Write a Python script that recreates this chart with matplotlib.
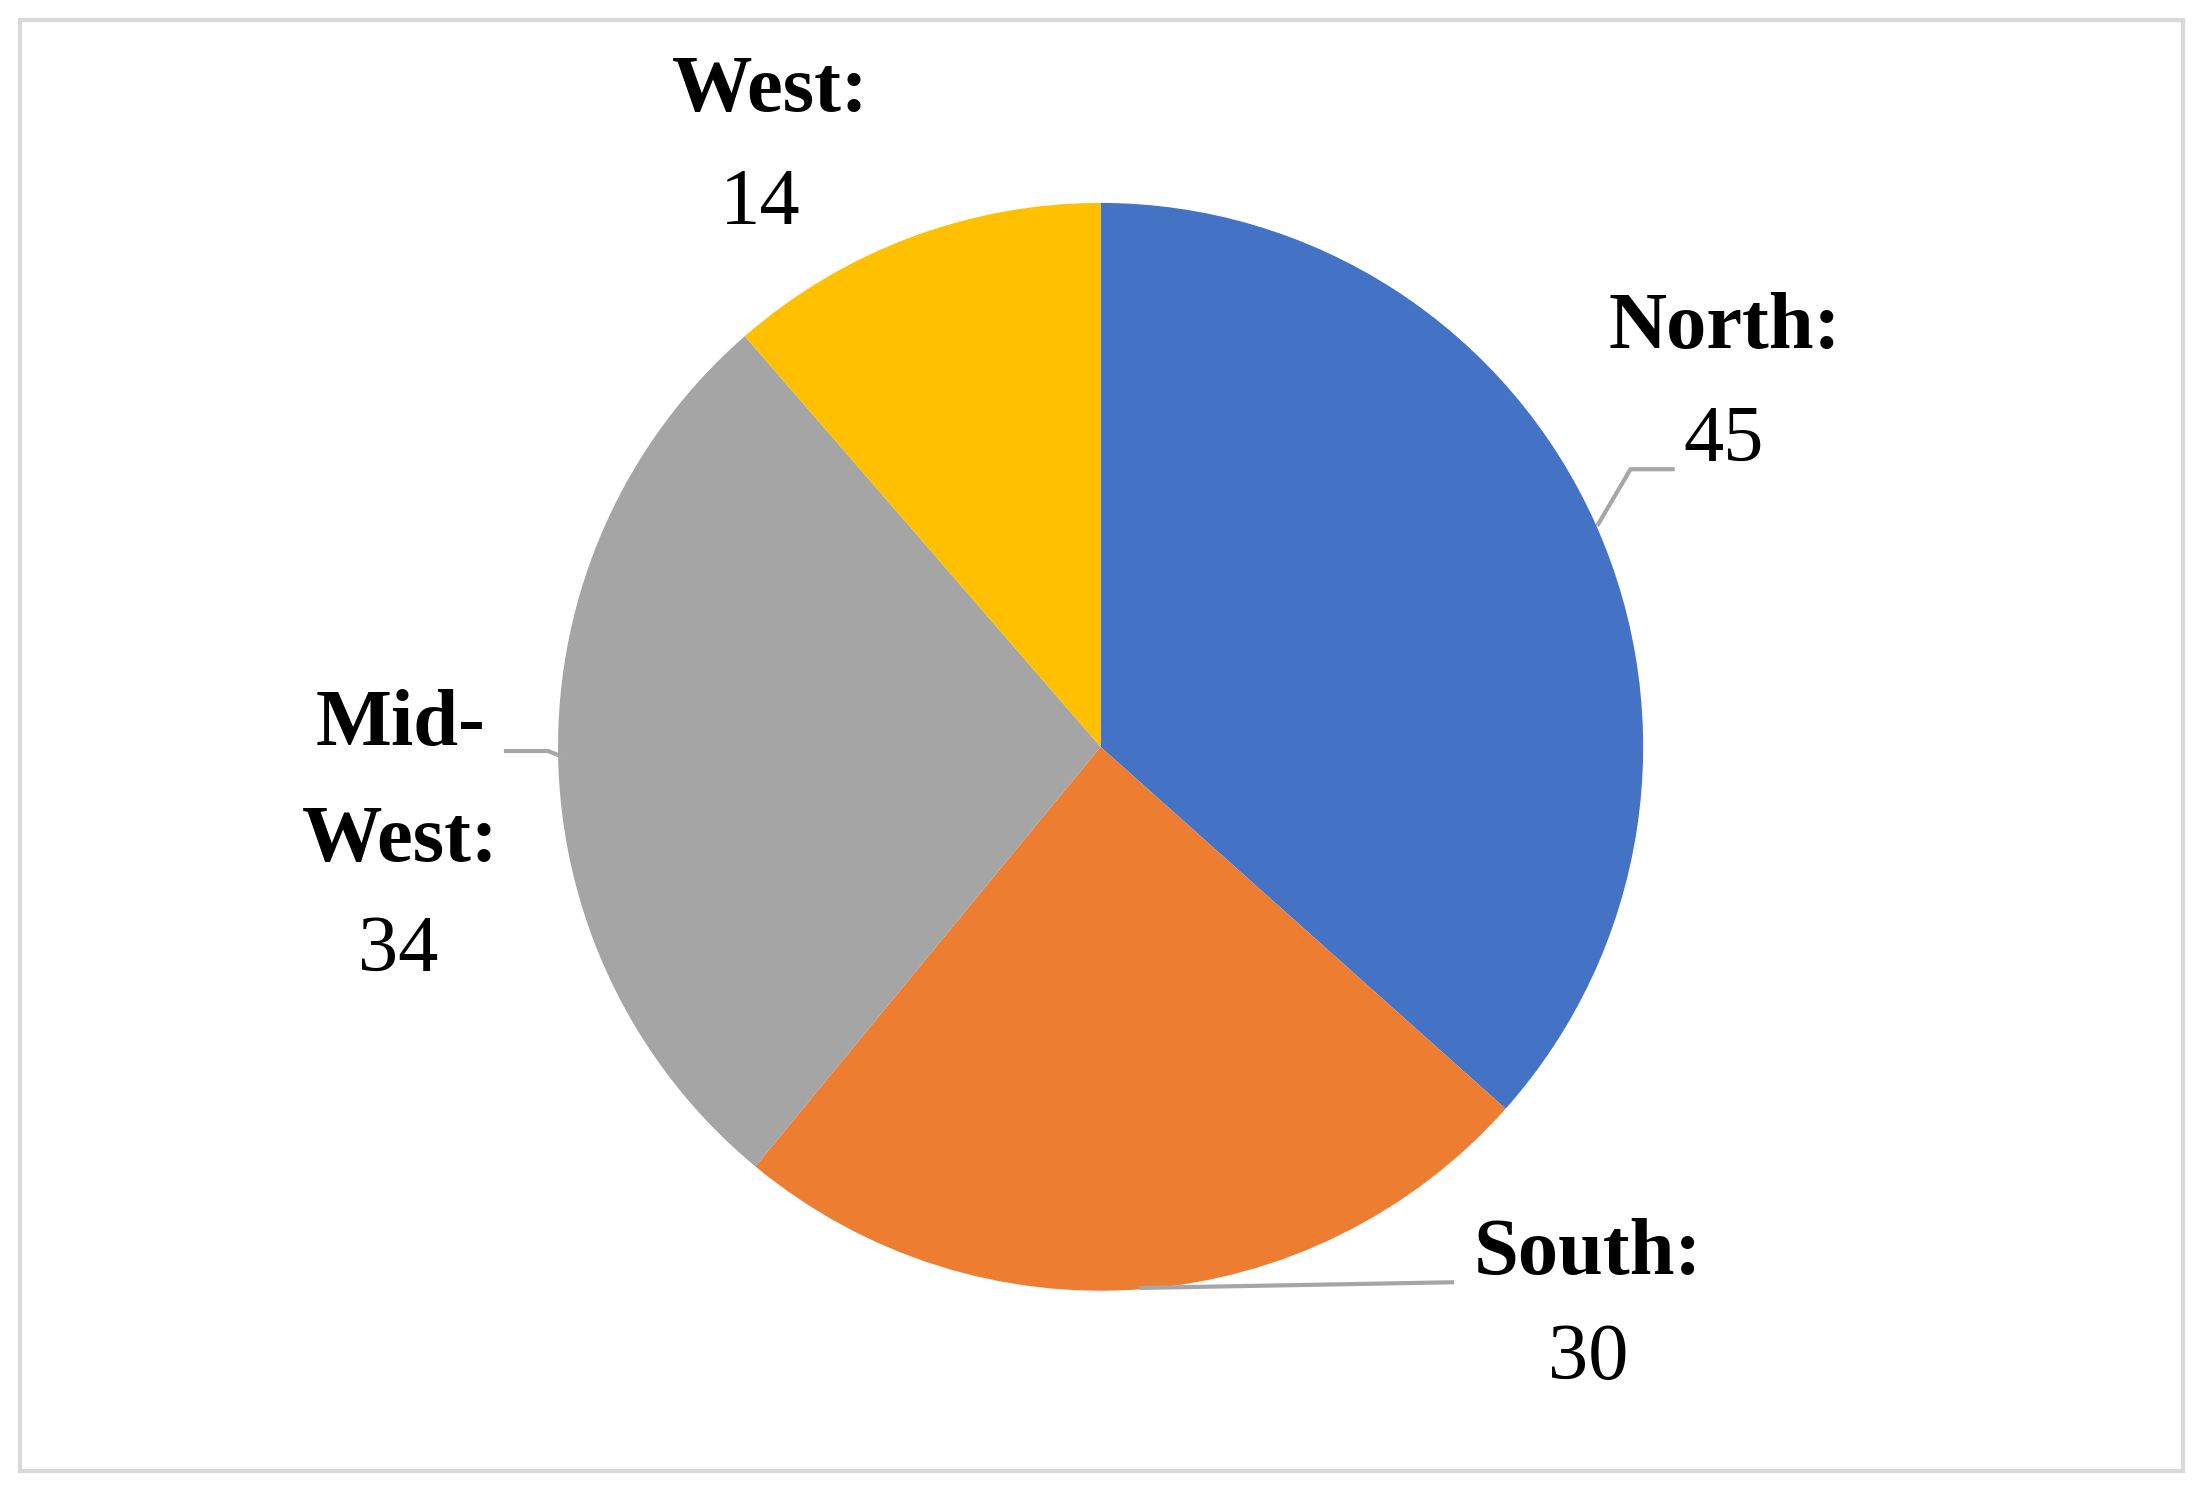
import matplotlib
matplotlib.use("Agg")
import matplotlib.pyplot as plt
from matplotlib.patches import Rectangle
from matplotlib.lines import Line2D

categories = ["North", "South", "Mid-West", "West"]
values = [45, 30, 34, 14]
colors = ["#4472C4", "#ED7D31", "#A5A5A5", "#FFC000"]

W, H = 1568, 1056  # reference display coordinates
fig = plt.figure(figsize=(22.04, 14.88), dpi=100)
fig.patches.append(Rectangle((14/W, 1-1044/H), (1553-14)/W, (1044-14)/H,
                             transform=fig.transFigure, fill=False,
                             edgecolor="#D9D9D9", lw=3))

cx, cy, r = 783/W, 1-530/H, 386
ax = fig.add_axes([cx - r/W, cy - r/H, 2*r/W, 2*r/H])
ax.pie(values, colors=colors, startangle=90, counterclock=False, radius=1,
       wedgeprops=dict(linewidth=0))
ax.set_xlim(-1, 1); ax.set_ylim(-1, 1); ax.set_aspect("auto")
ax.axis("off")

font = ["Liberation Serif"]
def t(x, y, s, bold):
    fig.text(x/W, 1-y/H, s, ha="center", va="center", fontsize=58,
             fontweight="bold" if bold else "normal", family=font)

t(548, 65, "West:", True); t(541, 145, "14", False)
t(1227, 233, "North:", True); t(1226, 313, "45", False)
t(285, 515, "Mid-", True); t(285, 597, "West:", True); t(283, 675, "34", False)
t(1130, 890, "South:", True); t(1130, 965, "30", False)

def line(pts):
    xs = [p[0]/W for p in pts]; ys = [1-p[1]/H for p in pts]
    fig.lines.append(Line2D(xs, ys, transform=fig.transFigure, color="#A6A6A6", lw=3))

line([(1137, 372), (1160, 333), (1190, 333)])
line([(400, 537), (390, 533), (360, 533)])
line([(812, 914), (1033, 910)])

fig.savefig("out.png", dpi=100)
